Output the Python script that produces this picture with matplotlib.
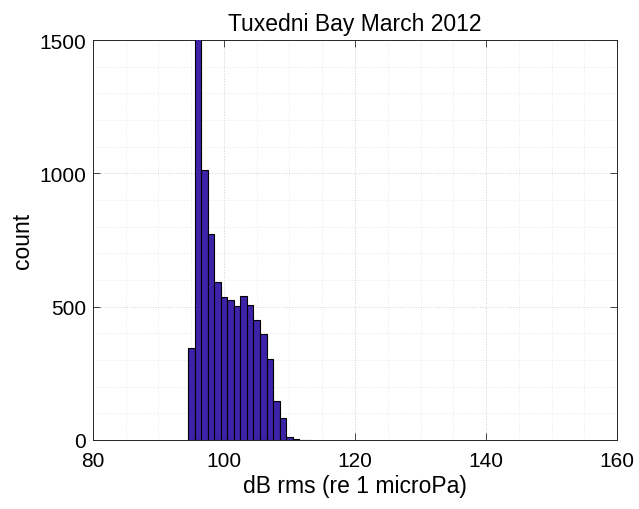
import numpy as np
import matplotlib
matplotlib.use("Agg")
import matplotlib.pyplot as plt
from matplotlib.ticker import MultipleLocator

# histogram of received levels, 1 dB bins
bin_left = [94.5, 95.5, 96.5, 97.5, 98.5, 99.5, 100.5, 101.5, 102.5, 103.5,
            104.5, 105.5, 106.5, 107.5, 108.5, 109.5, 110.5, 111.5, 112.5]
counts = [345, 1700, 1013, 771, 591, 536, 525, 504, 539, 505,
          451, 399, 304, 147, 81, 12, 4, 1, 1]
bin_width = 1.0

BARCOL = "#3D23A8"
AXCOL = "#262626"
FS_TICK = 15
FS_LAB = 16.5

plt.rcParams.update({"font.family": ["Liberation Sans", "DejaVu Sans"],
                     "font.size": FS_TICK})

fig = plt.figure(figsize=(6.39, 5.10), dpi=100)
ax = fig.add_axes([0.1455, 0.1353, 0.8201, 0.7843])

ax.bar(bin_left, counts, width=bin_width, align="edge", color=BARCOL,
       edgecolor="black", linewidth=0.8, zorder=3)

ax.set_xlim(80, 160)
ax.set_ylim(0, 1500)
ax.xaxis.set_major_locator(MultipleLocator(20))
ax.xaxis.set_minor_locator(MultipleLocator(5))
ax.yaxis.set_major_locator(MultipleLocator(500))
ax.yaxis.set_minor_locator(MultipleLocator(100))

ax.grid(which="major", color="#d0d0d0", ls=":", lw=0.7, zorder=0)
ax.grid(which="minor", color="#e6e6e6", ls=":", lw=0.6, zorder=0)

ax.tick_params(which="both", direction="in", top=True, right=True,
               colors=AXCOL, labelcolor="black", labelsize=FS_TICK)
ax.tick_params(which="major", length=5, width=0.6)
ax.tick_params(axis="x", which="major", pad=8)
ax.tick_params(axis="y", which="major", pad=5)
ax.tick_params(which="minor", length=0)
for sp in ax.spines.values():
    sp.set_color(AXCOL)
    sp.set_linewidth(0.7)

ax.set_xlabel("dB rms (re 1 microPa)", fontsize=FS_LAB, labelpad=3)
ax.set_ylabel("count", fontsize=FS_LAB, labelpad=4)
ax.set_title("Tuxedni Bay March 2012", fontsize=FS_LAB, pad=7)

fig.savefig("out.png", dpi=100)
